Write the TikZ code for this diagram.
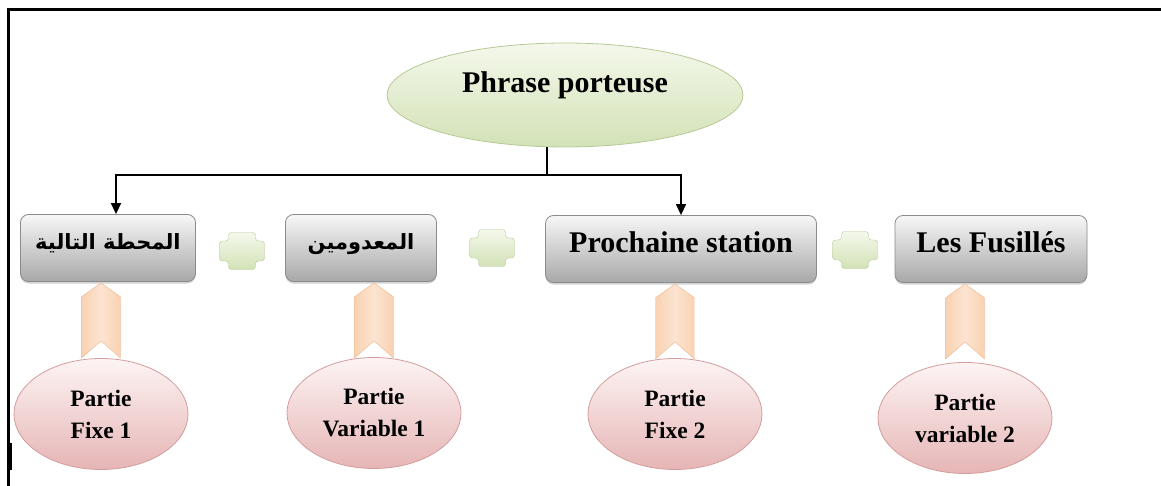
\documentclass[tikz,border=0pt]{standalone}
\usepackage{fontspec}
\setmainfont{Liberation Serif}
\newfontfamily\arabicfont[Script=Arabic]{DejaVu Sans}
\TeXXeTstate=1
\usetikzlibrary{arrows.meta,positioning,shapes.geometric,shadows}

\definecolor{boxtop}{HTML}{F7F7F7}
\definecolor{boxbot}{HTML}{A8A8A8}
\definecolor{boxline}{HTML}{8C8C8C}
\definecolor{greentop}{HTML}{F4F8EC}
\definecolor{greenbot}{HTML}{D3E2B6}
\definecolor{greenline}{HTML}{B5C996}
\definecolor{pinktop}{HTML}{FDF4F4}
\definecolor{pinkbot}{HTML}{E6B5B5}
\definecolor{pinkline}{HTML}{D49C9C}
\definecolor{peach}{HTML}{F9D2B2}
\definecolor{peachline}{HTML}{EDB48A}

\begin{document}
\begin{tikzpicture}[x=1pt, y=-1pt, >={Triangle[length=11pt,width=10pt]},
  title/.style={ellipse, draw=greenline, thick, top color=greentop, bottom color=greenbot,
    minimum width=356pt, minimum height=104pt, inner sep=0pt, text depth=26pt,
    font=\bfseries\fontsize{30}{32}\selectfont},
  part/.style={rounded corners=8pt, draw=boxline, thick, top color=boxtop, bottom color=boxbot,
    minimum height=67pt, inner sep=0pt, text depth=13pt, font=\bfseries\fontsize{30}{32}\selectfont,
    drop shadow={shadow xshift=0pt, shadow yshift=-2pt, opacity=0.35}},
  role/.style={ellipse, draw=pinkline, thick, top color=pinktop, bottom color=pinkbot,
    minimum width=174pt, minimum height=111pt, inner sep=0pt, align=center,
    font=\bfseries\fontsize{23.5}{32}\selectfont},
  ribbon/.style={draw=peachline, left color=peach, right color=peach, middle color=white!40!peach},
  joiner/.style={draw=greenline, top color=greentop, bottom color=greenbot, rounded corners=3pt}]
\useasboundingbox (0,0) rectangle (1161,486);

% cadre
\draw[line width=3pt] (8.5,486) -- (8.5,9.5) -- (1161,9.5);
\fill (7,443) rectangle (11.5,470);

% phrase porteuse
\node[title] (top) at (565,95) {Phrase porteuse};

% les quatre parties
\node[part, minimum width=175pt] (b1) at (108,248) {\arabicfont\fontsize{21}{24}\selectfont\beginR المحطة التالية\endR};
\node[part, minimum width=151pt] (b2) at (361,248) {\arabicfont\fontsize{21}{24}\selectfont\beginR المعدومين\endR};
\node[part, minimum width=271pt] (b3) at (681,249) {Prochaine station};
\node[part, minimum width=192pt] (b4) at (991,249) {Les Fusillés};

% signes plus
\coordinate (p1) at (242,251);
\coordinate (p2) at (492,248);
\coordinate (p3) at (855,250);
\foreach \p in {p1,p2,p3}
  \path[joiner, shift={(\p)}] (-13.5,-18.5) -- (13.5,-18.5) -- (13.5,-10) -- (22.5,-10) -- (22.5,10)
    -- (13.5,10) -- (13.5,18.5) -- (-13.5,18.5) -- (-13.5,10) -- (-22.5,10) -- (-22.5,-10)
    -- (-13.5,-10) -- cycle;

% ellipses du bas
\node[role] (e1) at (101,414) {Partie\\Fixe 1};
\node[role] (e2) at (374,413) {Partie\\Variable 1};
\node[role] (e3) at (675,414) {Partie\\Fixe 2};
\node[role] (e4) at (965,418) {Partie\\variable 2};

% rubans
\foreach \i in {1,...,4} {
  \coordinate (t\i) at (e\i.north |- b\i.south);
  \path[ribbon, shift={(t\i)}] (-19.5,76) -- (-19.5,15) -- (0,1) -- (19.5,15) -- (19.5,76)
    -- (0,59) -- cycle;
}

% fleches
\coordinate (split) at (547,175);
\draw[line width=1.4pt] (top.south -| split) -- (split);
\draw[->, line width=1.4pt] (split) -| ([xshift=8pt]b1.north);
\draw[->, line width=1.4pt] (split) -| (b3.north);
\end{tikzpicture}
\end{document}
